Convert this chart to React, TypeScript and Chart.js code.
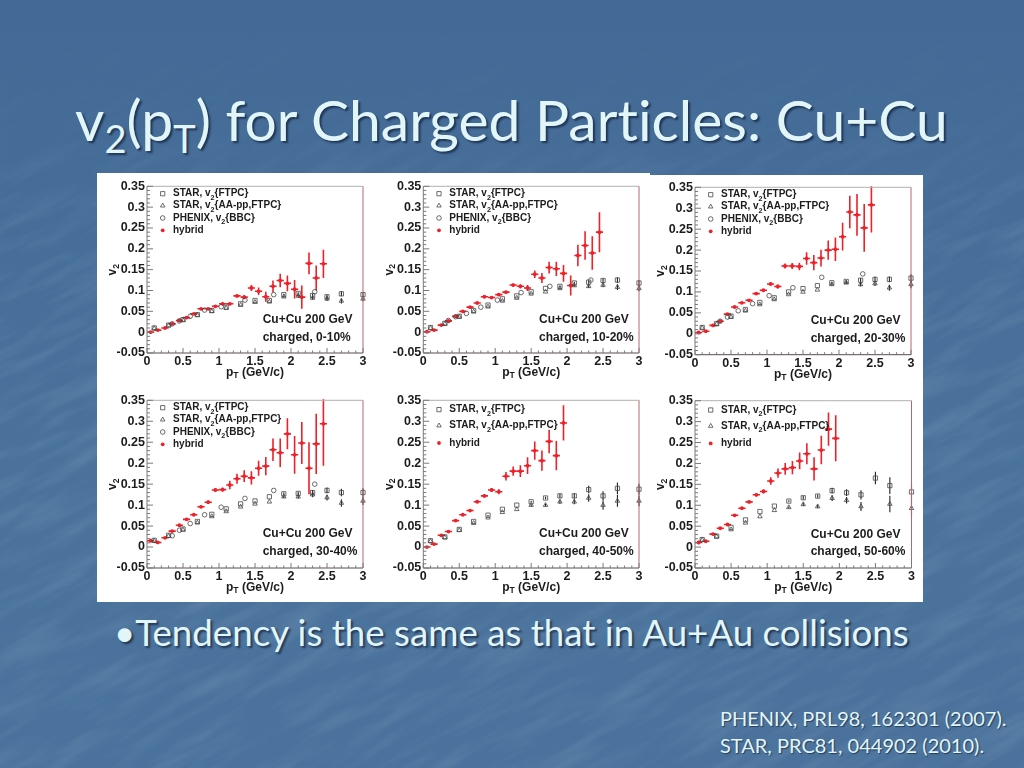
import React, { useEffect, useRef } from "react";
import { Chart, registerables } from "chart.js";
import { drawPoint } from "chart.js/helpers";

Chart.register(...registerables);

const hybridX = [0.05, 0.15, 0.25, 0.35, 0.45, 0.55, 0.65, 0.75, 0.85, 0.95, 1.05, 1.15, 1.25, 1.35, 1.45, 1.55, 1.65, 1.75, 1.85, 1.95, 2.05, 2.15, 2.25, 2.35, 2.45];
const starX = [0.1, 0.3, 0.5, 0.7, 0.9, 1.1, 1.3, 1.5, 1.7, 1.9, 2.1, 2.3, 2.5, 2.7, 3.0];
const phenixX = [0.35, 0.45, 0.6, 0.8, 1.03, 1.36, 1.76, 2.33];

const hybrid0 = [0, 0.005, 0.01, 0.02, 0.028, 0.035, 0.044, 0.056, 0.056, 0.062, 0.068, 0.068, 0.087, 0.084, 0.106, 0.098, 0.085, 0.11, 0.124, 0.117, 0.103, 0.084, 0.165, 0.13, 0.164];
const hybridErr0 = [0.001, 0.001, 0.001, 0.001, 0.001, 0.001, 0.002, 0.002, 0.002, 0.002, 0.003, 0.003, 0.003, 0.005, 0.007, 0.009, 0.012, 0.014, 0.016, 0.019, 0.022, 0.028, 0.026, 0.03, 0.034];
const hybrid1 = [0.001, 0.005, 0.017, 0.027, 0.038, 0.05, 0.06, 0.07, 0.085, 0.083, 0.09, 0.096, 0.113, 0.11, 0.106, 0.139, 0.13, 0.155, 0.152, 0.141, 0.112, 0.184, 0.208, 0.19, 0.24];
const hybridErr1 = [0.001, 0.001, 0.001, 0.001, 0.001, 0.002, 0.002, 0.002, 0.002, 0.003, 0.003, 0.003, 0.004, 0.005, 0.007, 0.009, 0.012, 0.014, 0.017, 0.02, 0.024, 0.026, 0.034, 0.04, 0.048];
const hybrid2 = [0.003, 0.006, 0.02, 0.03, 0.047, 0.064, 0.074, 0.08, 0.096, 0.104, 0.119, 0.113, 0.162, 0.162, 0.161, 0.18, 0.17, 0.181, 0.2, 0.202, 0.232, 0.291, 0.284, 0.253, 0.308];
const hybridErr2 = [0.001, 0.001, 0.001, 0.002, 0.002, 0.002, 0.002, 0.002, 0.003, 0.003, 0.004, 0.005, 0.006, 0.007, 0.009, 0.015, 0.018, 0.02, 0.023, 0.028, 0.033, 0.039, 0.05, 0.057, 0.066];
const hybrid3 = [0.015, 0.011, 0.022, 0.038, 0.052, 0.066, 0.077, 0.096, 0.107, 0.136, 0.137, 0.148, 0.163, 0.169, 0.165, 0.188, 0.193, 0.232, 0.225, 0.27, 0.22, 0.248, 0.188, 0.246, 0.294];
const hybridErr3 = [0.002, 0.002, 0.002, 0.002, 0.002, 0.002, 0.003, 0.003, 0.004, 0.004, 0.005, 0.01, 0.012, 0.014, 0.016, 0.018, 0.022, 0.027, 0.034, 0.037, 0.045, 0.05, 0.062, 0.072, 0.1];
const hybrid4 = [0, 0.007, 0.028, 0.037, 0.063, 0.077, 0.087, 0.108, 0.122, 0.136, 0.132, 0.169, 0.181, 0.181, 0.194, 0.23, 0.206, 0.252, 0.218, 0.296];
const hybridErr4 = [0.002, 0.002, 0.002, 0.002, 0.002, 0.003, 0.003, 0.003, 0.004, 0.005, 0.006, 0.01, 0.011, 0.014, 0.02, 0.022, 0.024, 0.028, 0.035, 0.042];
const hybrid5 = [0.011, 0.014, 0.031, 0.045, 0.054, 0.076, 0.093, 0.108, 0.125, 0.133, 0.158, 0.177, 0.187, 0.19, 0.206, 0.223, 0.187, 0.232, 0.282, 0.26];
const hybridErr5 = [0.004, 0.002, 0.002, 0.002, 0.002, 0.003, 0.003, 0.003, 0.004, 0.005, 0.009, 0.011, 0.014, 0.016, 0.02, 0.025, 0.028, 0.034, 0.04, 0.055];

const ftpc0 = [0.01, 0.017, 0.03, 0.042, 0.052, 0.06, 0.068, 0.076, 0.076, 0.09, 0.093, 0.088, 0.085, 0.092, 0.09];
const ftpc1 = [0.011, 0.021, 0.038, 0.052, 0.065, 0.08, 0.087, 0.097, 0.105, 0.11, 0.118, 0.12, 0.124, 0.125, 0.118];
const ftpc2 = [0.015, 0.024, 0.042, 0.058, 0.075, 0.086, 0.1, 0.108, 0.115, 0.122, 0.125, 0.128, 0.13, 0.13, 0.133];
const ftpc3 = [0.016, 0.028, 0.043, 0.061, 0.078, 0.091, 0.103, 0.11, 0.12, 0.127, 0.128, 0.13, 0.135, 0.13, 0.13];
const ftpc4 = [0.015, 0.024, 0.042, 0.061, 0.076, 0.09, 0.1, 0.108, 0.117, 0.122, 0.122, 0.137, 0.122, 0.14, 0.138];
const ftpc5 = [0.018, 0.026, 0.047, 0.065, 0.085, 0.098, 0.11, 0.118, 0.122, 0.135, 0.13, 0.125, 0.165, 0.147, 0.132];

const aapp0 = [0.009, 0.016, 0.029, 0.041, 0.05, 0.058, 0.065, 0.072, 0.073, 0.085, 0.087, 0.082, 0.08, 0.075, 0.08];
const aapp1 = [0.01, 0.02, 0.037, 0.049, 0.061, 0.075, 0.082, 0.092, 0.097, 0.105, 0.112, 0.11, 0.113, 0.108, 0.105];
const aapp2 = [0.014, 0.023, 0.04, 0.055, 0.07, 0.082, 0.094, 0.1, 0.105, 0.118, 0.122, 0.118, 0.12, 0.11, 0.118];
const aapp3 = [0.015, 0.026, 0.041, 0.058, 0.073, 0.085, 0.096, 0.103, 0.108, 0.12, 0.12, 0.125, 0.118, 0.105, 0.11];
const aapp4 = [0.014, 0.023, 0.04, 0.057, 0.07, 0.083, 0.09, 0.1, 0.1, 0.108, 0.108, 0.117, 0.1, 0.11, 0.11];
const aapp5 = [0.017, 0.025, 0.042, 0.058, 0.073, 0.088, 0.095, 0.102, 0.097, 0.117, 0.112, 0.097, null, 0.103, 0.093];

const starErr0 = [0, 0, 0, 0, 0, 0, 0, 0, 0, 0.002, 0.003, 0.004, 0.005, 0.006, 0.006];
const starErr1 = [0, 0, 0, 0, 0, 0, 0, 0, 0, 0.002, 0.003, 0.004, 0.005, 0.007, 0.007];
const starErr2 = [0, 0, 0, 0, 0, 0, 0, 0, 0, 0.002, 0.003, 0.005, 0.006, 0.007, 0.009];
const starErr3 = [0, 0, 0, 0, 0, 0, 0, 0, 0, 0.003, 0.004, 0.006, 0.007, 0.009, 0.01];
const starErr4 = [0, 0, 0, 0, 0, 0, 0, 0.002, 0.003, 0.005, 0.006, 0.009, 0.011, 0.014, 0.013];
const starErr5 = [0, 0, 0, 0, 0, 0, 0.002, 0.004, 0.004, 0.007, 0.008, 0.011, 0.015, 0.02, 0.02];

const phenix0 = [0.02, 0.027, 0.038, 0.053, 0.061, 0.077, 0.09, 0.097];
const phenix1 = [0.028, 0.037, 0.045, 0.06, 0.077, 0.095, 0.11, 0.125];
const phenix2 = [0.03, 0.04, 0.055, 0.072, 0.091, 0.11, 0.135, 0.143];
const phenix3 = [0.027, 0.04, 0.056, 0.077, 0.095, 0.116, 0.135, 0.15];

const centralities = ["0-10%", "10-20%", "20-30%", "30-40%", "40-50%", "50-60%"];
const seriesLabels = ["STAR, v_2{FTPC}", "STAR, v_2{AA-pp,FTPC}", "PHENIX, v_2{BBC}", "hybrid"];
const xTitle = "p_T (GeV/c)";
const yTitle = "v_2";
const systemLabel = "Cu+Cu 200 GeV";

const panels = [
  { hybrid: hybrid0, hybridErr: hybridErr0, ftpc: ftpc0, aapp: aapp0, starErr: starErr0, phenix: phenix0 },
  { hybrid: hybrid1, hybridErr: hybridErr1, ftpc: ftpc1, aapp: aapp1, starErr: starErr1, phenix: phenix1 },
  { hybrid: hybrid2, hybridErr: hybridErr2, ftpc: ftpc2, aapp: aapp2, starErr: starErr2, phenix: phenix2 },
  { hybrid: hybrid3, hybridErr: hybridErr3, ftpc: ftpc3, aapp: aapp3, starErr: starErr3, phenix: phenix3 },
  { hybrid: hybrid4, hybridErr: hybridErr4, ftpc: ftpc4, aapp: aapp4, starErr: starErr4, phenix: null },
  { hybrid: hybrid5, hybridErr: hybridErr5, ftpc: ftpc5, aapp: aapp5, starErr: starErr5, phenix: null },
];

// page positions of the plot frames: left, right, top, bottom
const frames = [
  [147, 363, 186.3, 353],
  [423.3, 639, 186.3, 353],
  [695, 911, 187.3, 354.7],
  [147, 363, 400.3, 568],
  [423.3, 639, 400.3, 568],
  [695, 911.5, 400.7, 568],
];
const canvasLefts = [97, 373, 645, 97, 373, 645];
const canvasTops = [173, 173, 173, 388, 388, 388];
const canvasW = 275;
const canvasH = 214;
const FONT = '"Liberation Sans", Arial, sans-serif';

function drawRich(ctx: any, text: string, x: number, y: number, size: number, subDrop: number, center = false) {
  const parts: { t: string; sub: boolean }[] = [];
  const re = /_(.)|([^_]+)/g;
  let m: any;
  while ((m = re.exec(text))) parts.push(m[1] ? { t: m[1], sub: true } : { t: m[2], sub: false });
  const font = (s: number) => `bold ${s}px ${FONT}`;
  let w = 0;
  for (const p of parts) {
    ctx.font = font(p.sub ? size * 0.72 : size);
    w += ctx.measureText(p.t).width;
  }
  let cx = center ? x - w / 2 : x;
  ctx.textAlign = "left";
  ctx.textBaseline = "middle";
  for (const p of parts) {
    ctx.font = font(p.sub ? size * 0.72 : size);
    ctx.fillText(p.t, cx, p.sub ? y + subDrop : y);
    cx += ctx.measureText(p.t).width;
  }
}

function makePlugin(panel: any, index: number) {
  return {
    id: "panelDecor" + index,
    beforeDatasetsDraw(chart: any) {
      const { ctx, chartArea: a, scales } = chart;
      const { x, y } = scales;
      ctx.save();
      ctx.beginPath();
      ctx.rect(a.left, a.top - 1, a.right - a.left + 3, a.bottom - a.top + 2);
      ctx.clip();
      // STAR statistical bars
      ctx.strokeStyle = "#222";
      ctx.lineWidth = 1.1;
      [panel.ftpc, panel.aapp].forEach((vals: any[]) => {
        vals.forEach((v, i) => {
          const e = panel.starErr[i];
          if (v == null || !e) return;
          const px = x.getPixelForValue(starX[i]);
          ctx.beginPath();
          ctx.moveTo(px, y.getPixelForValue(v - e));
          ctx.lineTo(px, y.getPixelForValue(v + e));
          ctx.stroke();
        });
      });
      // hybrid bars
      ctx.strokeStyle = "#ee2028";
      ctx.lineWidth = 1.6;
      panel.hybrid.forEach((v: number, i: number) => {
        const px = x.getPixelForValue(hybridX[i]);
        const py = y.getPixelForValue(v);
        ctx.beginPath();
        ctx.moveTo(x.getPixelForValue(hybridX[i] - 0.05), py);
        ctx.lineTo(x.getPixelForValue(hybridX[i] + 0.05), py);
        ctx.moveTo(px, y.getPixelForValue(v - panel.hybridErr[i]));
        ctx.lineTo(px, y.getPixelForValue(v + panel.hybridErr[i]));
        ctx.stroke();
      });
      ctx.restore();
    },
    afterDraw(chart: any) {
      const { ctx, chartArea: a, scales } = chart;
      const { x, y } = scales;
      ctx.save();
      // frame
      ctx.lineWidth = 1;
      const seg = (color: string, x0: number, y0: number, x1: number, y1: number) => {
        ctx.strokeStyle = color;
        ctx.beginPath();
        ctx.moveTo(x0, y0);
        ctx.lineTo(x1, y1);
        ctx.stroke();
      };
      seg("#b5b0b0", a.left, a.top, a.right, a.top);
      seg("#b4686c", a.right, a.top, a.right, a.bottom);
      seg("#5c4a4c", a.left, a.bottom, a.right, a.bottom);
      seg("#7a7a7a", a.left, a.top, a.left, a.bottom);
      // inward tick marks
      x.ticks.forEach((t: any) => {
        const major = Math.round(t.value * 10) % 5 === 0;
        const px = x.getPixelForValue(t.value);
        seg("#7a7a7a", px, a.bottom, px, a.bottom - (major ? 5 : 2.5));
      });
      y.ticks.forEach((t: any) => {
        const major = Math.round(t.value * 100) % 5 === 0;
        const py = y.getPixelForValue(t.value);
        seg("#7a7a7a", a.left, py, a.left + (major ? 6 : 3), py);
      });
      // legend
      const datasets = chart.data.datasets;
      const rows = datasets.length === 4 ? [7.4, 19.4, 31.7, 44] : [9.3, 25.3, 42.7];
      datasets.forEach((d: any, i: number) => {
        const ly = a.top + rows[i];
        ctx.strokeStyle = d.borderColor;
        ctx.fillStyle = d.backgroundColor;
        ctx.lineWidth = d.borderWidth;
        drawPoint(ctx, { pointStyle: d.pointStyle, radius: d.pointRadius, rotation: 0, borderWidth: d.borderWidth }, a.left + 15.7, ly);
        ctx.fillStyle = "#1c1c1c";
        drawRich(ctx, d.label, a.left + 26, ly, 10, 4);
      });
      // system + centrality
      ctx.fillStyle = "#1c1c1c";
      drawRich(ctx, systemLabel, a.left + 115.7, a.top + 133.7, 12, 0);
      drawRich(ctx, "charged, " + centralities[index], a.left + 115.7, a.top + 151, 12, 0);
      // axis titles
      drawRich(ctx, xTitle, (a.left + a.right) / 2, a.bottom + 19.5, 12, 3.5, true);
      ctx.translate(a.left - 34, (a.top + a.bottom) / 2);
      ctx.rotate(-Math.PI / 2);
      drawRich(ctx, yTitle, 0, 0, 12, 3.5, true);
      ctx.restore();
    },
  };
}

function Panel({ index }: { index: number }) {
  const ref = useRef<HTMLCanvasElement | null>(null);
  useEffect(() => {
    const panel = panels[index];
    const [fl, fr, ft, fb] = frames[index];
    const left = canvasLefts[index];
    const top = canvasTops[index];
    const star = { borderColor: "#484848", backgroundColor: "rgba(0,0,0,0)", borderWidth: 0.8, clip: false, showLine: false };
    const datasets: any[] = [
      { ...star, label: seriesLabels[0], pointStyle: "rect", pointRadius: 3, data: starX.map((x, i) => ({ x, y: panel.ftpc[i] })) },
      { ...star, label: seriesLabels[1], pointStyle: "triangle", pointRadius: 2.6, data: starX.map((x, i) => ({ x, y: panel.aapp[i] })).filter((p) => p.y != null) },
    ];
    if (panel.phenix) {
      datasets.push({ ...star, label: seriesLabels[2], pointStyle: "circle", pointRadius: 2.3, data: phenixX.map((x, i) => ({ x, y: panel.phenix![i] })) });
    }
    datasets.push({
      label: seriesLabels[3], pointStyle: "circle", pointRadius: 1.9, borderColor: "#ee2028", backgroundColor: "#ee2028", borderWidth: 0, showLine: false,
      data: panel.hybrid.map((y, i) => ({ x: hybridX[i], y })),
    });
    const font = { family: FONT, weight: "bold" as const, size: 12.5 };
    const chart = new Chart(ref.current!, {
      type: "scatter",
      data: { datasets },
      plugins: [makePlugin(panel, index)],
      options: {
        animation: false,
        responsive: false,
        events: [],
        layout: { padding: { top: ft - top, right: left + canvasW - fr, left: 0, bottom: 0 } },
        plugins: { legend: { display: false }, tooltip: { enabled: false }, title: { display: false } },
        scales: {
          x: {
            type: "linear", min: 0, max: 3,
            grid: { display: false, drawTicks: false }, border: { display: false },
            afterFit: (s: any) => { s.height = top + canvasH - fb; },
            ticks: {
              stepSize: 0.1, autoSkip: false, maxRotation: 0, padding: 1, color: "#1c1c1c", font,
              callback: (v: any) => (Math.round(v * 10) % 5 === 0 ? String(Math.round(v * 10) / 10) : ""),
            },
          },
          y: {
            type: "linear", min: -0.05, max: 0.35,
            grid: { display: false, drawTicks: false }, border: { display: false },
            afterFit: (s: any) => { s.width = fl - left; },
            ticks: {
              stepSize: 0.01, autoSkip: false, padding: 2, color: "#1c1c1c", font,
              callback: (v: any) => (Math.round(v * 100) % 5 === 0 ? String(Math.round(v * 100) / 100) : ""),
            },
          },
        },
      } as any,
    });
    return () => chart.destroy();
  }, [index]);
  return (
    <canvas
      ref={ref}
      width={canvasW}
      height={canvasH}
      style={{ position: "absolute", left: canvasLefts[index], top: canvasTops[index], width: canvasW, height: canvasH, filter: "blur(0.4px)" }}
    />
  );
}

const textStyle: React.CSSProperties = {
  position: "absolute",
  whiteSpace: "nowrap",
  fontFamily: 'Lato, "Open Sans", sans-serif',
  fontVariantLigatures: "none",
  color: "#e2f6f8",
  textShadow: "2px 2px 2px rgba(10,25,50,0.65)",
};

export default function App() {
  useEffect(() => {
    document.body.style.margin = "0";
  }, []);
  return (
    <div
      style={{
        position: "absolute", left: 0, top: 0, width: 1024, height: 768, overflow: "hidden",
        background: "linear-gradient(180deg, #436a96 0%, #456d98 25%, #4a729b 60%, #4a729c 100%)",
      }}
    >
      <svg width={1024} height={768} style={{ position: "absolute", left: 0, top: 0, opacity: 0.14 }}>
        <defs>
          <filter id="mottle" x="0" y="0" width="100%" height="100%">
            <feTurbulence type="fractalNoise" baseFrequency="0.012 0.07" numOctaves={4} seed={7} />
            <feColorMatrix type="matrix" values="0 0 0 0 0.85  0 0 0 0 0.9  0 0 0 0 1  1.6 0 0 0 -0.65" />
          </filter>
          <linearGradient id="fade" x1="0" y1="0" x2="0" y2="1">
            <stop offset="0" stopColor="#000" />
            <stop offset="0.16" stopColor="#333" />
            <stop offset="0.32" stopColor="#fff" />
            <stop offset="1" stopColor="#ddd" />
          </linearGradient>
          <mask id="fadeMask">
            <rect x={0} y={0} width={1024} height={768} fill="url(#fade)" />
          </mask>
        </defs>
        <g mask="url(#fadeMask)">
          <rect x={-300} y={-300} width={1700} height={1500} filter="url(#mottle)" transform="rotate(-28 512 384)" />
        </g>
      </svg>
      <div style={{ ...textStyle, left: 75, top: 86, fontSize: 57, lineHeight: "66px" }}>
        v<sub style={{ fontSize: 38, lineHeight: 0 }}>2</sub>(p<sub style={{ fontSize: 38, lineHeight: 0 }}>T</sub>) for Charged Particles: Cu+Cu
      </div>
      <div style={{ position: "absolute", left: 97, top: 173, width: 553, height: 429, background: "#fff" }} />
      <div style={{ position: "absolute", left: 650, top: 175, width: 273, height: 427, background: "#fff" }} />
      {panels.map((_, i) => (
        <Panel key={i} index={i} />
      ))}
      <div style={{ ...textStyle, left: 114, top: 610, fontSize: 36.7, lineHeight: "44px" }}>•Tendency is the same as that in Au+Au collisions</div>
      <div style={{ ...textStyle, left: 720, top: 705, fontSize: 20, lineHeight: "27px", textShadow: "1px 1px 1px rgba(10,25,50,0.6)" }}>
        PHENIX, PRL98, 162301 (2007).
        <br />
        STAR, PRC81, 044902 (2010).
      </div>
    </div>
  );
}
